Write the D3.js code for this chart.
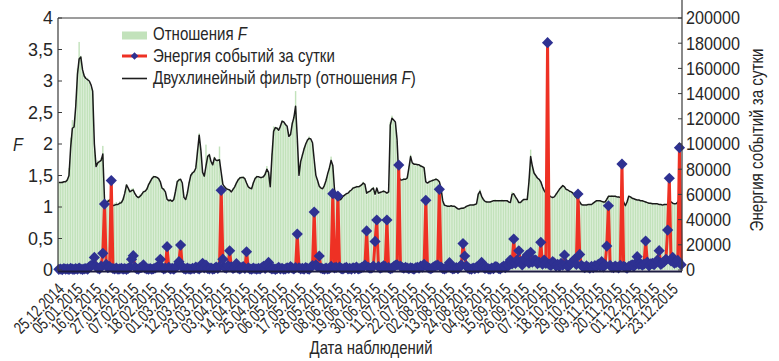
<!DOCTYPE html>
<html>
<head>
<meta charset="utf-8">
<script src="https://cdn.jsdelivr.net/npm/d3@7/dist/d3.min.js"></script>
<style>
  html, body { margin: 0; padding: 0; background: #fff; }
  svg { display: block; }
</style>
</head>
<body>
<svg id="chart" width="779" height="361"></svg>
<script>
// Daily observations, 25.12.2014 – 28.12.2015
const firstDay = new Date(2014, 11, 25);
const lastDayExclusive = new Date(2015, 11, 29);

// Daily ratio F (bars)
const ratioF = [
  1.40,1.38,1.41,1.39,1.42,1.45,1.62,2.10,2.38,2.30,
  2.70,3.20,3.62,3.40,3.15,3.10,3.02,3.05,2.98,2.90,
  2.80,1.90,1.62,1.74,1.70,1.78,1.97,1.10,1.05,1.12,
  1.13,1.05,1.00,1.06,1.08,1.03,1.09,1.10,1.15,1.25,
  1.36,1.28,1.22,1.29,1.30,1.18,1.15,1.17,1.20,1.22,
  1.26,1.24,1.30,1.37,1.42,1.47,1.50,1.49,1.46,1.44,
  1.38,1.28,1.30,1.22,1.10,1.12,1.13,1.08,1.15,1.28,
  1.42,1.45,1.43,1.36,1.13,1.14,1.25,1.40,1.52,1.56,
  1.58,1.66,1.92,2.17,1.88,1.52,1.50,1.99,1.82,1.85,
  1.70,1.68,1.80,1.72,1.76,1.96,1.52,1.34,1.30,1.31,
  1.27,1.28,1.22,1.30,1.34,1.40,1.45,1.48,1.46,1.49,
  1.44,1.36,1.30,1.32,1.28,1.40,1.47,1.50,1.46,1.48,
  1.46,1.50,1.55,1.65,1.52,1.30,1.85,2.28,2.24,2.27,
  2.20,2.30,2.38,2.33,2.32,2.26,2.10,2.18,2.35,2.45,
  2.84,2.05,1.48,1.75,1.84,1.94,2.02,2.08,2.12,2.06,
  2.00,1.72,1.48,1.40,1.32,1.31,1.28,1.36,1.44,1.55,
  1.64,1.80,1.64,1.26,1.16,1.15,1.10,1.14,1.18,1.20,
  1.22,1.21,1.27,1.26,1.32,1.30,1.34,1.31,1.35,1.36,
  1.40,1.34,1.20,1.26,1.24,1.30,1.32,1.18,1.31,1.20,
  1.25,1.22,1.27,1.23,1.20,1.26,2.35,2.45,2.36,2.30,
  2.05,1.46,1.44,1.42,1.46,1.43,1.48,1.65,1.83,1.68,
  1.70,1.66,1.69,1.65,1.67,1.62,1.64,1.38,1.36,1.42,
  1.40,1.44,1.42,1.46,1.41,1.38,1.28,1.08,1.04,1.00,
  1.03,1.00,1.03,1.02,0.99,1.00,0.96,0.98,0.97,1.00,
  0.98,1.02,1.01,1.04,1.02,1.05,1.03,1.06,1.22,1.28,
  1.15,1.13,1.08,1.10,1.07,1.09,1.10,1.08,1.12,1.09,
  1.11,1.09,1.12,1.10,1.08,1.11,1.07,1.06,1.24,1.20,
  1.18,1.10,1.08,1.06,1.11,1.13,1.10,1.14,1.45,1.91,
  1.66,1.55,1.48,1.47,1.42,1.41,1.30,1.27,1.20,1.21,
  1.17,1.15,1.16,1.14,1.22,1.25,1.27,1.33,1.35,1.30,
  1.29,1.25,1.26,1.22,1.23,1.17,1.16,1.10,1.09,1.03,
  1.04,1.02,1.05,1.03,1.05,1.04,1.07,1.09,1.11,1.09,
  1.11,1.08,1.09,1.07,1.14,1.18,1.16,1.19,1.16,1.18,
  1.15,1.17,1.14,1.15,1.06,1.01,1.10,1.18,1.15,1.15,
  1.12,1.13,1.10,1.12,1.09,1.11,1.08,1.09,1.06,1.07,
  1.05,1.07,1.04,1.06,1.05,1.03,1.05,1.02,1.05,1.03,
  1.05,1.07,1.09,1.05,1.06,1.04,1.09,1.13,1.11
];

// Two-line filter of the ratio F (black line)
const filterF = [
  1.39,1.39,1.39,1.40,1.40,1.43,1.50,1.95,2.25,2.27,
  2.60,3.10,3.35,3.38,3.18,3.08,3.04,3.02,3.00,2.94,
  2.84,2.00,1.64,1.70,1.72,1.74,1.84,1.12,1.06,1.09,
  1.11,1.06,1.02,1.03,1.04,1.04,1.06,1.07,1.12,1.22,
  1.35,1.30,1.24,1.26,1.27,1.21,1.17,1.15,1.17,1.20,
  1.24,1.25,1.28,1.35,1.40,1.45,1.48,1.48,1.47,1.45,
  1.40,1.30,1.28,1.24,1.12,1.10,1.11,1.09,1.12,1.25,
  1.40,1.43,1.44,1.38,1.15,1.12,1.22,1.38,1.50,1.54,
  1.56,1.62,1.88,2.14,1.90,1.55,1.49,1.65,1.80,1.83,
  1.72,1.67,1.78,1.74,1.74,1.75,1.55,1.36,1.32,1.29,
  1.28,1.27,1.24,1.28,1.32,1.38,1.43,1.46,1.47,1.47,
  1.45,1.38,1.32,1.30,1.29,1.38,1.45,1.48,1.48,1.47,
  1.47,1.48,1.52,1.60,1.55,1.32,1.80,2.20,2.26,2.25,
  2.22,2.28,2.36,2.35,2.31,2.28,2.12,2.15,2.32,2.42,
  2.60,2.10,1.50,1.72,1.82,1.92,2.00,2.06,2.09,2.08,
  2.02,1.75,1.50,1.42,1.33,1.30,1.29,1.34,1.42,1.53,
  1.62,1.74,1.66,1.28,1.18,1.14,1.11,1.13,1.17,1.19,
  1.21,1.22,1.25,1.27,1.30,1.31,1.32,1.32,1.33,1.35,
  1.38,1.36,1.22,1.24,1.25,1.28,1.30,1.20,1.30,1.22,
  1.23,1.24,1.25,1.24,1.22,1.24,2.30,2.41,2.38,2.35,
  2.07,1.48,1.43,1.43,1.44,1.44,1.46,1.62,1.80,1.70,
  1.68,1.68,1.67,1.67,1.65,1.64,1.62,1.40,1.38,1.40,
  1.41,1.42,1.43,1.44,1.43,1.40,1.30,1.10,1.03,1.02,
  1.01,1.01,1.02,1.01,1.01,0.99,0.97,0.97,0.98,0.98,
  0.99,1.01,1.02,1.03,1.03,1.03,1.04,1.05,1.20,1.25,
  1.17,1.12,1.09,1.08,1.08,1.08,1.09,1.10,1.10,1.10,
  1.10,1.10,1.10,1.10,1.10,1.10,1.08,1.07,1.20,1.21,
  1.16,1.12,1.07,1.07,1.10,1.12,1.12,1.12,1.40,1.80,
  1.65,1.54,1.50,1.46,1.44,1.40,1.32,1.26,1.22,1.19,
  1.18,1.16,1.15,1.16,1.20,1.24,1.28,1.31,1.34,1.32,
  1.28,1.27,1.25,1.24,1.22,1.18,1.15,1.11,1.08,1.04,
  1.03,1.03,1.03,1.04,1.04,1.04,1.06,1.08,1.10,1.10,
  1.10,1.09,1.08,1.08,1.12,1.17,1.17,1.17,1.17,1.17,
  1.16,1.16,1.15,1.14,1.08,1.02,1.08,1.17,1.16,1.14,
  1.13,1.12,1.11,1.11,1.10,1.10,1.09,1.08,1.07,1.06,
  1.06,1.05,1.05,1.05,1.05,1.04,1.04,1.03,1.04,1.04,
  1.04,1.06,1.08,1.06,1.05,1.05,1.08,1.12,1.12
];

// Energy of events per day
const energy = [
  500,800,300,1200,600,900,400,1300,700,500,
  1100,600,1500,800,400,900,1200,600,2500,3500,
  4200,10000,2800,1500,900,3000,13200,52300,4500,1800,
  2600,71000,1200,800,1500,600,900,1400,700,1100,
  500,1300,2200,8500,11400,2400,1000,600,1800,2100,
  4000,1500,900,700,1200,600,1000,1600,2400,3000,
  8500,2000,900,1500,18500,2200,800,1300,600,1900,
  3400,6600,19800,2500,1100,700,1500,900,600,1400,
  1000,2300,1500,800,2000,5300,1700,3800,1200,900,
  1600,700,1100,2400,1300,2800,63200,8600,2100,1500,
  3400,15200,2500,1200,1900,5000,1400,800,1700,2600,
  1200,14500,1800,900,600,1500,1000,700,1300,900,
  1800,2900,1200,3300,6000,1600,800,1200,500,1000,
  2100,800,1400,600,900,1700,1200,2600,1500,800,
  2000,28500,1800,900,1300,700,1900,1100,600,2400,
  3500,46000,4000,2600,11100,1500,1000,700,1500,800,
  1300,2900,60600,1700,2100,58700,2400,1100,900,1600,
  2200,800,1300,700,1800,1100,2400,900,1200,1900,
  2500,3900,31000,2200,1400,1700,3000,22700,39700,2700,
  1500,2100,3300,2600,39700,1900,1000,1500,2600,3600,
  4000,83300,3100,2000,1400,2200,1600,1000,1800,1300,
  700,1700,2200,1500,3000,2300,4500,55300,2400,1400,
  1000,1800,2700,3400,3800,64000,2400,1200,800,1500,
  3000,5800,1600,900,1300,2000,1100,2500,4000,21000,
  11100,3300,1400,900,700,1600,1100,2300,1500,3800,
  6000,2400,1200,1800,900,700,1500,1100,2600,2500,
  1200,900,2000,3000,1800,4200,3500,7900,4800,24600,
  5200,7900,15200,6400,4000,8500,7900,11900,5500,14000,
  6200,7900,7900,5000,6100,22000,4600,7900,5300,180400,
  4200,3600,6600,5500,3100,4400,2800,5200,3800,11900,
  4600,2700,3900,5500,6800,8500,4400,60300,12400,3600,
  2500,1800,3200,2200,1500,2800,1900,3400,2600,4500,
  3000,6600,2400,4000,19000,51000,3600,2200,1800,3100,
  2400,1600,3700,84100,2900,2200,1400,2600,3300,4100,
  2800,5200,10600,4400,5000,3800,4600,23000,6200,3300,
  4800,5300,4200,6100,7900,15300,4500,5600,6600,8500,
  31700,72800,7200,10000,5400,6000,7600,97100,4200
];

// Axis ticks and labels
const leftTicks = [0, 0.5, 1, 1.5, 2, 2.5, 3, 3.5, 4];
const rightTicks = [0, 20000, 40000, 60000, 80000, 100000, 120000, 140000, 160000, 180000, 200000];
const dateLabels = [
  "25.12.2014","05.01.2015","16.01.2015","27.01.2015","07.02.2015","18.02.2015",
  "01.03.2015","12.03.2015","23.03.2015","03.04.2015","14.04.2015","25.04.2015",
  "06.05.2015","17.05.2015","28.05.2015","08.06.2015","19.06.2015","30.06.2015",
  "11.07.2015","22.07.2015","02.08.2015","13.08.2015","24.08.2015","04.09.2015",
  "15.09.2015","26.09.2015","07.10.2015","18.10.2015","29.10.2015","09.11.2015",
  "20.11.2015","01.12.2015","12.12.2015","23.12.2015"
];
const labelStep = 11;

const legendLabels = ["Отношения ", "Энергия событий за сутки", "Двухлинейный фильтр (отношения "];
const axisTitleX = "Дата наблюдений";
const axisTitleRight = "Энергия событий за сутки";

// ---- drawing ----
const FONT = "'Liberation Sans', Arial, sans-serif";
const TEXT = "#262626";
const GREEN = "#c2e2bb";
const RED = "#ee3124";
const NAVY = "#2e3192";

const plot = { left: 58, right: 682, top: 18, bottom: 270 };

const days = d3.timeDay.range(firstDay, lastDayExclusive);
const idx = days.map((d, i) => i);

const x = d3.scaleBand().domain(idx).range([plot.left, plot.right]).paddingInner(0).paddingOuter(0);
const bw = x.bandwidth();
const cx = i => x(i) + bw / 2;
const yL = d3.scaleLinear().domain([0, 4]).range([plot.bottom, plot.top]);
const yR = d3.scaleLinear().domain([0, 200000]).range([plot.bottom, plot.top]);

const svg = d3.select("#chart").style("font-family", FONT);

// The typeface is a condensed grotesque: regular glyphs are narrowed horizontally.
function naturalWidth(str, size, italic) {
  const t = svg.append("text").attr("font-size", size).attr("font-style", italic ? "italic" : null).text(str);
  const w = t.node().getComputedTextLength();
  t.remove();
  return w;
}
const sxLegend = 263 / naturalWidth("Двухлинейный фильтр (отношения F)", 17.5);
const sxTitleX = 123 / naturalWidth(axisTitleX, 18);
const sxTitleR = 183 / naturalWidth(axisTitleRight, 18);
const sxRight = 54 / naturalWidth("180000", 18);
const sxLeft = 25 / naturalWidth("3,5", 18);
const sxDate = 63 / naturalWidth("25.12.2014", 17);

function label(parent, { x, y, rot, sx, size, anchor, dy, italic, text }) {
  const g = parent.append("g")
    .attr("transform", `translate(${x},${y})` + (rot ? ` rotate(${rot})` : "") + ` scale(${sx},1)`);
  return g.append("text")
    .attr("text-anchor", anchor || "start")
    .attr("dy", dy || null)
    .attr("font-size", size)
    .attr("font-style", italic ? "italic" : null)
    .attr("fill", TEXT)
    .text(text);
}

// bars of F
svg.append("g").selectAll("rect").data(idx).join("rect")
  .attr("x", i => x(i) + bw * 0.08)
  .attr("width", bw * 0.84)
  .attr("y", i => yL(ratioF[i]))
  .attr("height", i => yL(0) - yL(ratioF[i]))
  .attr("fill", GREEN);

// filter line
svg.append("path")
  .datum(idx)
  .attr("fill", "none")
  .attr("stroke", "#1a1a1a")
  .attr("stroke-width", 1.5)
  .attr("stroke-linejoin", "round")
  .attr("d", d3.line().x(cx).y(i => yL(filterF[i])));

// energy line
svg.append("path")
  .datum(idx)
  .attr("fill", "none")
  .attr("stroke", RED)
  .attr("stroke-width", 3)
  .attr("stroke-linejoin", "round")
  .attr("d", d3.line().x(cx).y(i => yR(energy[i])));

// energy markers
const diamond = r => `M0,${-r}L${r},0L0,${r}L${-r},0Z`;
svg.append("g").selectAll("path").data(idx).join("path")
  .attr("transform", i => `translate(${cx(i)},${yR(energy[i])})`)
  .attr("d", diamond(5.6))
  .attr("fill", NAVY);

// frame
const axisColor = "#3a3a3a";
svg.append("line").attr("x1", plot.left).attr("x2", plot.right).attr("y1", plot.top).attr("y2", plot.top)
  .attr("stroke", axisColor).attr("stroke-width", 1);
svg.append("line").attr("x1", plot.left).attr("x2", plot.left).attr("y1", plot.top).attr("y2", plot.bottom + 1)
  .attr("stroke", axisColor).attr("stroke-width", 1.2);
svg.append("line").attr("x1", plot.right).attr("x2", plot.right).attr("y1", plot.top - 18).attr("y2", plot.bottom + 1)
  .attr("stroke", axisColor).attr("stroke-width", 1.2);
svg.append("line").attr("x1", plot.left).attr("x2", plot.right).attr("y1", plot.bottom + 1.5).attr("y2", plot.bottom + 1.5)
  .attr("stroke", "#1c1c40").attr("stroke-width", 2);

// left axis
const gl = svg.append("g");
gl.selectAll("line").data(leftTicks).join("line")
  .attr("x1", plot.left).attr("x2", plot.left + 4)
  .attr("y1", d => yL(d)).attr("y2", d => yL(d))
  .attr("stroke", axisColor);
leftTicks.forEach(d => label(gl, {
  x: plot.left - 5, y: yL(d), sx: sxLeft, size: 18, anchor: "end", dy: "0.36em",
  text: String(d).replace(".", ",")
}));

// right axis
const gr = svg.append("g");
gr.selectAll("line").data(rightTicks).join("line")
  .attr("x1", plot.right - 4).attr("x2", plot.right)
  .attr("y1", d => yR(d)).attr("y2", d => yR(d))
  .attr("stroke", axisColor);
rightTicks.forEach(d => label(gr, {
  x: plot.right + 4, y: yR(d), sx: sxRight, size: 18, anchor: "start", dy: "0.36em",
  text: String(d)
}));

// date labels
const gd = svg.append("g");
dateLabels.forEach((d, k) => label(gd, {
  x: cx(k * labelStep) + 2, y: 286, rot: -45, sx: sxDate, size: 17, anchor: "end", dy: "0.36em", text: d
}));

// axis titles
label(svg, { x: 371, y: 354, sx: sxTitleX, size: 18, anchor: "middle", text: axisTitleX });
label(svg, { x: 763, y: 140, rot: -90, sx: sxTitleR, size: 18, anchor: "middle", text: axisTitleRight });
label(svg, { x: 18, y: 151, sx: 0.9, size: 18, anchor: "middle", italic: true, text: "F" });

// legend
const lg = svg.append("g");
const lx = 122, sw = 25, tx = 153;
lg.append("rect").attr("x", lx).attr("y", 31.5).attr("width", sw).attr("height", 8).attr("fill", GREEN);
lg.append("line").attr("x1", lx).attr("x2", lx + sw).attr("y1", 56).attr("y2", 56)
  .attr("stroke", RED).attr("stroke-width", 3);
lg.append("path").attr("transform", `translate(${lx + sw / 2},56)`).attr("d", diamond(3.8)).attr("fill", NAVY);
lg.append("line").attr("x1", lx).attr("x2", lx + sw).attr("y1", 78.5).attr("y2", 78.5)
  .attr("stroke", "#1e1e1e").attr("stroke-width", 1.6);

const legendY = [39.5, 61.5, 83.5];
legendLabels.forEach((t, k) => {
  const el = label(lg, { x: tx, y: legendY[k], sx: sxLegend, size: 17.5, text: "" });
  el.append("tspan").text(t);
  if (k === 0) el.append("tspan").attr("font-style", "italic").text("F");
  if (k === 2) {
    el.append("tspan").attr("font-style", "italic").text("F");
    el.append("tspan").text(")");
  }
});
</script>
</body>
</html>
